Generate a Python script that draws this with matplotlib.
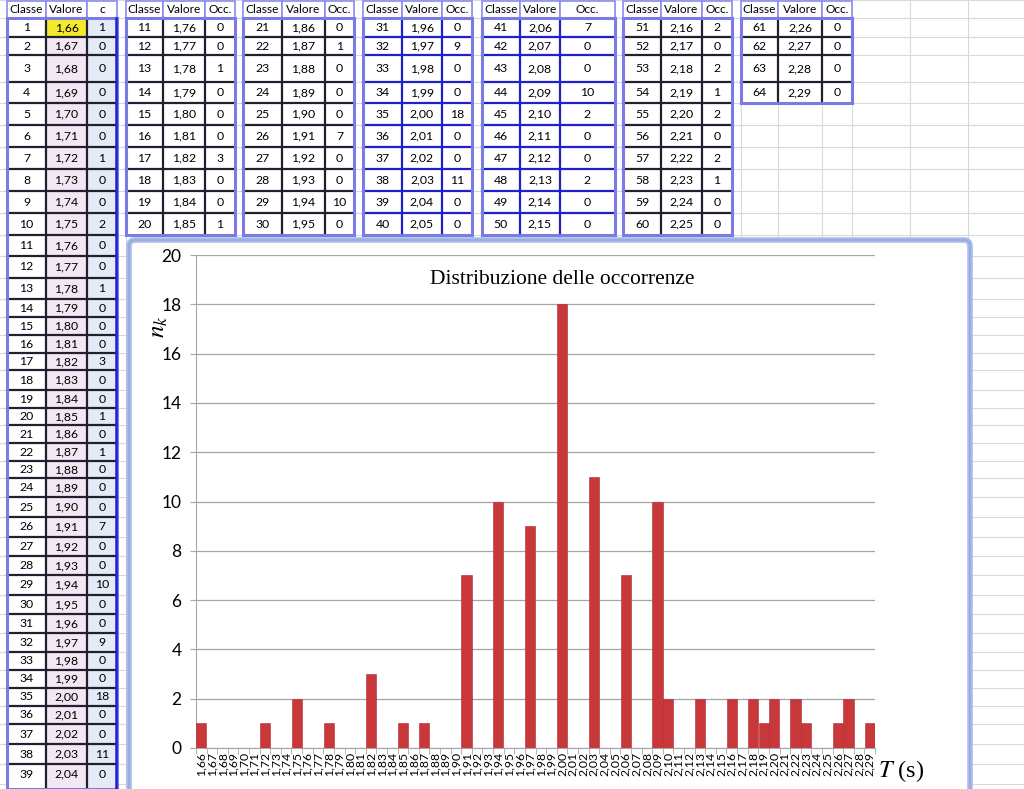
import matplotlib
matplotlib.use("Agg")
import matplotlib.pyplot as plt
from matplotlib.patches import Rectangle, FancyBboxPatch

plt.rcParams['font.family'] = ['Lato', 'DejaVu Sans']
plt.rcParams['mathtext.fontset'] = 'stix'

# dati
classi = [1, 2, 3, 4, 5, 6, 7, 8, 9, 10, 11, 12, 13, 14, 15, 16, 17, 18, 19, 20,
          21, 22, 23, 24, 25, 26, 27, 28, 29, 30, 31, 32, 33, 34, 35, 36, 37, 38, 39, 40,
          41, 42, 43, 44, 45, 46, 47, 48, 49, 50, 51, 52, 53, 54, 55, 56, 57, 58, 59, 60,
          61, 62, 63, 64]
valori = [1.66, 1.67, 1.68, 1.69, 1.70, 1.71, 1.72, 1.73, 1.74, 1.75,
          1.76, 1.77, 1.78, 1.79, 1.80, 1.81, 1.82, 1.83, 1.84, 1.85,
          1.86, 1.87, 1.88, 1.89, 1.90, 1.91, 1.92, 1.93, 1.94, 1.95,
          1.96, 1.97, 1.98, 1.99, 2.00, 2.01, 2.02, 2.03, 2.04, 2.05,
          2.06, 2.07, 2.08, 2.09, 2.10, 2.11, 2.12, 2.13, 2.14, 2.15,
          2.16, 2.17, 2.18, 2.19, 2.20, 2.21, 2.22, 2.23, 2.24, 2.25,
          2.26, 2.27, 2.28, 2.29]
occ_tabella = [1, 0, 0, 0, 0, 0, 1, 0, 0, 2,
               0, 0, 1, 0, 0, 0, 3, 0, 0, 1,
               0, 1, 0, 0, 0, 7, 0, 0, 10, 0,
               0, 9, 0, 0, 18, 0, 0, 11, 0, 0,
               7, 0, 0, 10, 2, 0, 0, 2, 0, 0,
               2, 0, 2, 1, 2, 0, 2, 1, 0, 0,
               0, 0, 0, 0]
occ_grafico = [1, 0, 0, 0, 0, 0, 1, 0, 0, 2,
               0, 0, 1, 0, 0, 0, 3, 0, 0, 1,
               0, 1, 0, 0, 0, 7, 0, 0, 10, 0,
               0, 9, 0, 0, 18, 0, 0, 11, 0, 0,
               7, 0, 0, 10, 2, 0, 0, 2, 0, 0,
               2, 0, 2, 1, 2, 0, 2, 1, 0, 0,
               1, 2, 0, 1]
etichette = [("%.2f" % v).replace(".", ",") for v in valori]

fig = plt.figure(figsize=(10.24, 7.89), dpi=100)

# foglio di calcolo (coordinate in pixel)
bg = fig.add_axes([0, 0, 1, 1])
bg.set_xlim(0, 1024)
bg.set_ylim(789, 0)
bg.axis("off")

righe_alto = [18, 37, 55, 82, 103, 125, 147, 169, 191, 213, 235]
righe_sx = [235, 256, 278, 299, 317, 335, 353, 370, 390, 408, 425, 443, 461, 478,
            497, 517, 537, 556, 575, 595, 614, 633, 652, 670, 688, 706, 724, 744,
            764, 784]
colonne = [7, 46, 87, 117, 126, 163, 205, 235, 243, 282, 325, 354, 363, 402, 442,
           472, 482, 520, 560, 615, 623, 661, 702, 732, 741, 778, 822, 852, 910, 968]

grid_c = "#d9d9d9"
for y in [0] + righe_alto + righe_sx[1:]:
    bg.plot([0, 1024], [y, y], color=grid_c, lw=0.8, zorder=0)
for x in colonne:
    bg.plot([x, x], [0, 789], color=grid_c, lw=0.8, zorder=0)

blocchi = [
    ([7, 46, 87, 117], 0, 39, "c", "#202030"),
    ([126, 163, 205, 235], 10, 20, "Occ.", "#202030"),
    ([243, 282, 325, 354], 20, 30, "Occ.", "#202030"),
    ([363, 402, 442, 472], 30, 40, "Occ.", "#1f1fd0"),
    ([482, 520, 560, 615], 40, 50, "Occ.", "#1f1fd0"),
    ([623, 661, 702, 732], 50, 60, "Occ.", "#202030"),
    ([741, 778, 822, 852], 60, 64, "Occ.", "#202030"),
]
ye_all = righe_alto + righe_sx[1:]
bordo = "#7b7be8"
for xe, i0, i1, h3, ic in blocchi:
    n = i1 - i0
    ye = ye_all[:n + 1]
    primo = i0 == 0
    # intestazione
    for j, h in enumerate(["Classe", "Valore", h3]):
        bg.add_patch(Rectangle((xe[j], 1), xe[j + 1] - xe[j], 17, fc="white",
                               ec="#8c8cf0", lw=1.2, zorder=2))
        bg.text((xe[j] + xe[j + 1]) / 2, 9.5, h, ha="center", va="center",
                fontsize=8.6, color="black", zorder=4)
    bottom = 789 if primo else ye[-1]
    fills = ["white", "#f3e7f4", "#e4eaf6"] if primo else ["white"] * 3
    for j in range(3):
        bg.add_patch(Rectangle((xe[j], ye[0]), xe[j + 1] - xe[j], bottom - ye[0],
                               fc=fills[j], ec="none", zorder=1))
    if primo:
        bg.add_patch(Rectangle((xe[1], ye[0]), xe[2] - xe[1], ye[1] - ye[0],
                               fc="#f5e92c", ec="none", zorder=1.5))
    for k in range(n):
        i = i0 + k
        yc = (ye[k] + ye[k + 1]) / 2
        testi = [str(classi[i]), etichette[i], str(occ_tabella[i])]
        for j in range(3):
            bg.text((xe[j] + xe[j + 1]) / 2, yc, testi[j], ha="center",
                    va="center", fontsize=8.8, color="black", zorder=4)
    for y in ye[1:-1]:
        bg.plot([xe[0], xe[-1]], [y, y], color=ic, lw=1.6, zorder=2)
    for x in xe[1:3]:
        bg.plot([x, x], [ye[0], bottom], color=ic, lw=1.6, zorder=2)
    bg.add_patch(Rectangle((xe[0], ye[0]), xe[-1] - xe[0], bottom - ye[0],
                           fill=False, ec=bordo, lw=2.2, zorder=3))
    if primo:
        bg.plot([xe[-1] - 1, xe[-1] - 1], [ye[0], bottom], color="#1f1fd0",
                lw=1.8, zorder=3)

# cornice del grafico
bg.add_patch(FancyBboxPatch((129, 240), 841, 580,
                            boxstyle="round,pad=0,rounding_size=6",
                            fc="white", ec="#aabbe8", lw=4, zorder=5))
bg.add_patch(FancyBboxPatch((129, 240), 841, 580,
                            boxstyle="round,pad=0,rounding_size=6",
                            fill=False, ec="#8fa3dc", lw=0.8, zorder=5))

# grafico
ax = fig.add_axes([196 / 1024, 41 / 789, 679 / 1024, 493 / 789])
ax.set_zorder(6)
ax.patch.set_alpha(0)
x = list(range(len(valori)))
ax.bar(x, occ_grafico, width=0.96, color="#c8373a", edgecolor="#a82b2d",
       linewidth=0.4, zorder=3)
ax.set_xlim(-0.5, len(valori) - 0.5)
ax.set_ylim(0, 20)
ax.set_yticks(range(0, 21, 2))
ax.yaxis.grid(True, color="#a6a6a6", lw=0.9)
ax.set_axisbelow(True)
ax.set_xticks(x)
ax.set_xticklabels(etichette, rotation=90, fontsize=8.8, color="black")
ax.set_xticks([v - 0.5 for v in x] + [len(valori) - 0.5], minor=True)
ax.tick_params(axis="x", which="major", length=0, pad=3)
ax.tick_params(axis="x", which="minor", length=4, color="#a6a6a6")
ax.tick_params(axis="y", length=4.5, color="#a6a6a6", pad=6, labelsize=12.5,
               labelcolor="black")
for s in ["top", "right"]:
    ax.spines[s].set_visible(False)
for s in ["left", "bottom"]:
    ax.spines[s].set_color("#a6a6a6")
ax.text(0.54, 0.951, "Distribuzione delle occorrenze", transform=ax.transAxes,
        ha="center", va="center", fontsize=15.5, family="Liberation Serif")

fig.text(158 / 1024, 1 - 327 / 789, r"$n_k$", rotation=90, fontsize=18,
         ha="center", va="center", zorder=7)
fig.text(901 / 1024, 1 - 771 / 789, r"$T$ (s)", fontsize=17.5, ha="center",
         va="center", family="Liberation Serif", zorder=7)

fig.savefig("out.png", dpi=100)
